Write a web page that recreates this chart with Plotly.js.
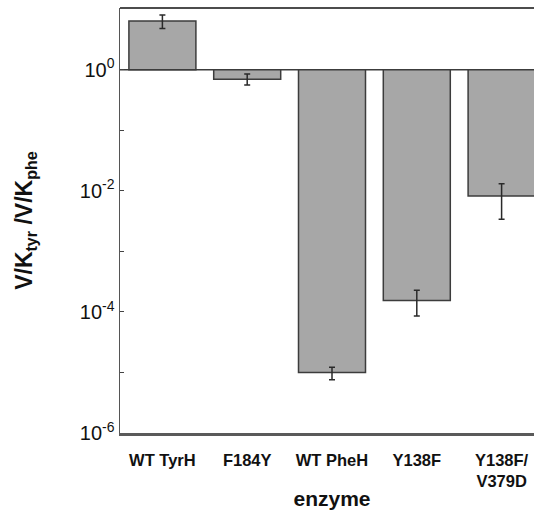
<!DOCTYPE html>
<html>
<head>
<meta charset="utf-8">
<script src="https://cdn.plot.ly/plotly-3.0.1.min.js"></script>
<style>
html,body{margin:0;padding:0;overflow:hidden;background:#fff;}
#chart{width:544px;height:510px;}
</style>
</head>
<body>
<div id="chart"></div>
<script>
// Data
var enzymes = ["WT TyrH", "F184Y", "WT PheH", "Y138F", "Y138F/<br>V379D"];
var ratio = [6.4, 0.70, 1.0e-5, 1.55e-4, 8.2e-3];
var errPlus = [1.6, 0.15, 0.22e-5, 0.74e-4, 4.9e-3];
var errMinus = [1.6, 0.14, 0.24e-5, 0.69e-4, 4.8e-3];
var baseline = 1;
var yTickVals = [1e-6, 1e-5, 1e-4, 1e-3, 1e-2, 1e-1, 1];
var yTickText = ["10<sup>-6</sup>", "", "10<sup>-4</sup>", "", "10<sup>-2</sup>", "", "10<sup>0</sup>"];

var sizes = ratio.map(function(v){ return v - baseline; });

var trace = {
  type: "bar",
  x: enzymes,
  y: sizes,
  base: baseline,
  width: 0.79,
  marker: {color: "#a7a7a7", line: {color: "#3c3c3c", width: 1.5}},
  error_y: {type: "data", symmetric: false, array: errPlus, arrayminus: errMinus,
            color: "#2a2a2a", thickness: 1.5, width: 3},
  hoverinfo: "none"
};

var layout = {
  width: 544, height: 510,
  margin: {l: 120, r: 0, t: 8, b: 77},
  paper_bgcolor: "#fff", plot_bgcolor: "#fff",
  showlegend: false,
  font: {family: "Liberation Sans, Arial, sans-serif", color: "#111"},
  xaxis: {
    range: [-0.5, 4.5],
    showline: true, linecolor: "#5a5a5a", linewidth: 3,
    ticks: "", showgrid: false,
    ticklabelstandoff: 10,
    tickfont: {size: 16.5, weight: "bold", color: "#111"},
    title: {text: "enzyme", font: {size: 21, weight: "bold", color: "#111"}, standoff: 4}
  },
  yaxis: {
    type: "log",
    range: [-6, 1.02],
    tickvals: yTickVals, ticktext: yTickText,
    ticks: "inside", ticklen: 4, tickcolor: "#444", tickwidth: 1,
    showline: true, linecolor: "#555", linewidth: 1.5,
    showgrid: false, zeroline: false,
    tickfont: {size: 20, color: "#111"},
    title: {text: "V/K<sub>tyr</sub> /V/K<sub>phe</sub>", font: {size: 23, weight: "bold", color: "#111"}, standoff: 40}
  },
  shapes: [
    {type: "line", xref: "paper", yref: "y", x0: 0, x1: 1, y0: baseline, y1: baseline,
     line: {color: "#3c3c3c", width: 1.5}, layer: "below"},
    {type: "line", xref: "paper", yref: "paper", x0: 0, x1: 1, y0: 1, y1: 1,
     line: {color: "#111", width: 1.5}}
  ]
};

Plotly.newPlot("chart", [trace], layout, {displayModeBar: false, staticPlot: true});
</script>
</body>
</html>
